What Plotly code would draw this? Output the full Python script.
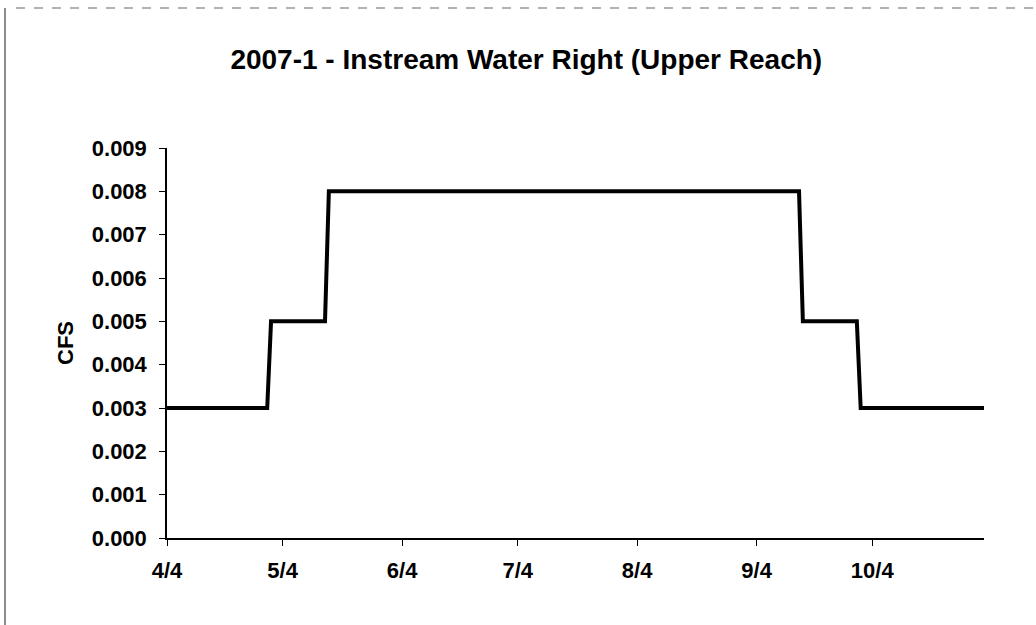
import plotly.graph_objects as go

# Step breakpoints (daily data, 2007)
dates = ["2007-04-04", "2007-04-30", "2007-05-01", "2007-05-15", "2007-05-16",
         "2007-09-15", "2007-09-16", "2007-09-30", "2007-10-01", "2007-11-02"]
cfs = [0.003, 0.003, 0.005, 0.005, 0.008,
       0.008, 0.005, 0.005, 0.003, 0.003]

y_ticks = [0.000, 0.001, 0.002, 0.003, 0.004, 0.005, 0.006, 0.007, 0.008, 0.009]
x_range = ["2007-04-04", "2007-11-02"]

FONT = "Liberation Sans, Arial, sans-serif"

fig = go.Figure()
fig.add_trace(go.Scatter(
    x=dates, y=cfs, mode="lines",
    line=dict(color="black", width=4),
    showlegend=False, hoverinfo="skip",
))

fig.update_layout(
    width=1036, height=625,
    margin=dict(l=167, r=52, t=148, b=87),
    paper_bgcolor="white", plot_bgcolor="white",
    title=dict(
        text="2007-1 - Instream Water Right (Upper Reach)",
        x=0.508, xanchor="center", y=0.905, yanchor="middle",
        font=dict(family=FONT, size=28, color="black", weight="bold"),
    ),
    xaxis=dict(
        type="date", range=x_range,
        tick0="2007-04-04", dtick="M1", tickformat="%-m/%-d",
        showgrid=False, zeroline=False,
        showline=True, linecolor="black", linewidth=1.5,
        ticks="outside", ticklen=6, tickcolor="black", tickwidth=1,
        tickfont=dict(family=FONT, size=22, color="black", weight="bold"),
        ticklabelstandoff=6,
    ),
    yaxis=dict(
        range=[0, 0.009], tickvals=y_ticks, tickformat=".3f",
        showgrid=False, zeroline=False,
        showline=True, linecolor="black", linewidth=1.5,
        ticks="outside", ticklen=6, tickcolor="black", tickwidth=1,
        tickfont=dict(family=FONT, size=22, color="black", weight="bold"),
        ticklabelstandoff=8,
        title=dict(text="CFS", standoff=12,
                   font=dict(family=FONT, size=22, color="black", weight="bold")),
    ),
    shapes=[
        dict(type="line", xref="paper", yref="paper", x0=-0.1848, x1=1.07,
             y0=1.359, y1=1.359, line=dict(color="#999", width=1.5, dash="dash")),
        dict(type="line", xref="paper", yref="paper", x0=-0.1983, x1=-0.1983,
             y0=1.359, y1=-0.23, line=dict(color="#666", width=1.5)),
    ],
)

fig.write_html("out.html", config={"displayModeBar": False},
               post_script="document.body.style.margin='0px';")
